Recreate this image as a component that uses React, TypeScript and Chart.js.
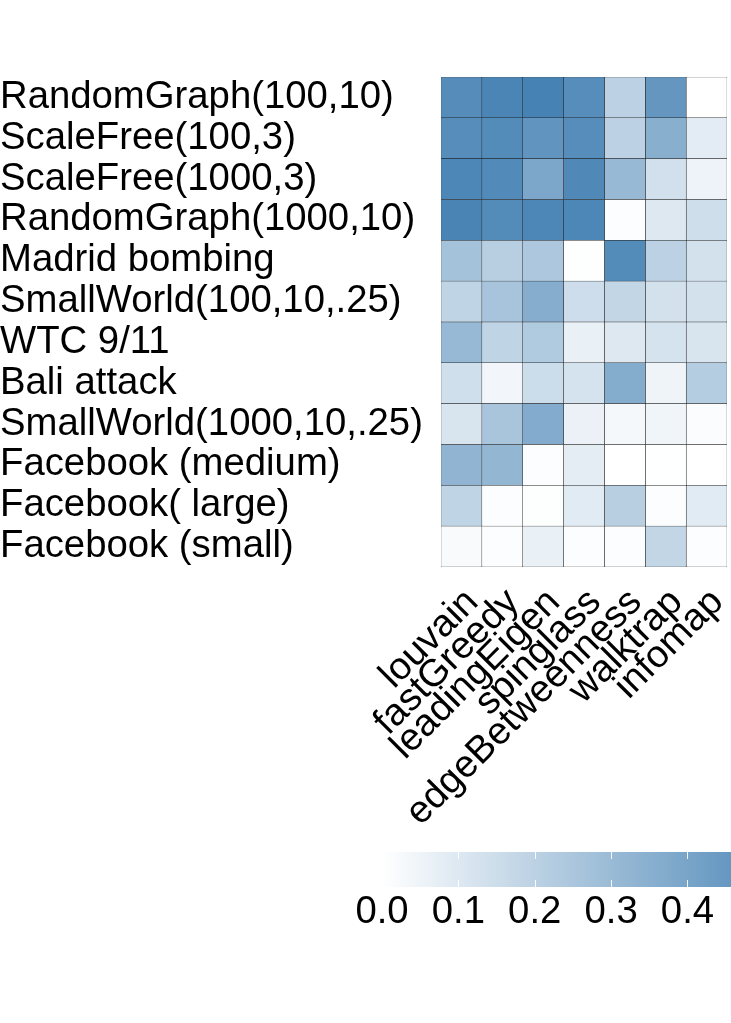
import React, { useEffect, useRef } from "react";
import { Chart, registerables } from "chart.js";
Chart.register(...registerables);

const rowLabels = [
  "RandomGraph(100,10)",
  "ScaleFree(100,3)",
  "ScaleFree(1000,3)",
  "RandomGraph(1000,10)",
  "Madrid bombing",
  "SmallWorld(100,10,.25)",
  "WTC 9/11",
  "Bali attack",
  "SmallWorld(1000,10,.25)",
  "Facebook (medium)",
  "Facebook( large)",
  "Facebook (small)",
];
const colLabels = ["louvain", "fastGreedy", "leadingEigen", "spinglass", "edgeBetweenness", "walktrap", "infomap"];

// values per method (column), listed in row order (top to bottom)
const louvain = [0.505, 0.5, 0.53, 0.54, 0.27, 0.19, 0.31, 0.14, 0.115, 0.33, 0.19, 0.02];
const fastGreedy = [0.535, 0.51, 0.515, 0.51, 0.21, 0.26, 0.19, 0.04, 0.255, 0.32, 0.01, 0.01];
const leadingEigen = [0.55, 0.47, 0.39, 0.53, 0.245, 0.36, 0.235, 0.155, 0.37, 0.01, 0.005, 0.065];
const spinglass = [0.5, 0.5, 0.52, 0.53, 0.005, 0.15, 0.065, 0.125, 0.06, 0.08, 0.09, 0.01];
const edgeBetweenness = [0.2, 0.2, 0.31, 0.01, 0.51, 0.18, 0.1, 0.365, 0.03, 0, 0.21, 0.01];
const walktrap = [0.46, 0.35, 0.137, 0.1, 0.2, 0.13, 0.125, 0.05, 0.045, 0.002, 0.01, 0.18];
const infomap = [0, 0.083, 0.054, 0.145, 0.13, 0.13, 0.115, 0.22, 0.015, 0, 0.09, 0.01];
const columns = [louvain, fastGreedy, leadingEigen, spinglass, edgeBetweenness, walktrap, infomap];

const cellSpan = rowLabels.map(() => 1);
const legendTicks = [0, 0.1, 0.2, 0.3, 0.4];
const legendMax = 0.457;
const colorMax = 0.55;

const LOW = [255, 255, 255];
const HIGH = [70, 130, 180];
function fillColor(v: number) {
  const t = Math.max(0, Math.min(1, v / colorMax));
  const c = LOW.map((l, i) => Math.round(l + (HIGH[i] - l) * t));
  return `rgb(${c[0]},${c[1]},${c[2]})`;
}

const FONT = "'Liberation Sans', Arial, Helvetica, sans-serif";
const FSIZE = 38.3;

export default function App() {
  const mainRef = useRef<HTMLCanvasElement>(null);
  const legRef = useRef<HTMLCanvasElement>(null);

  useEffect(() => {
    const main = new Chart(mainRef.current!, {
      type: "bar",
      data: {
        labels: rowLabels,
        datasets: columns.map((vals, j) => ({
          label: colLabels[j],
          data: cellSpan,
          backgroundColor: vals.map(fillColor),
          borderColor: "#1a1a1a",
          borderWidth: 0.5,
          borderSkipped: false,
          barPercentage: 1,
          categoryPercentage: 1,
        })),
      },
      options: {
        indexAxis: "y",
        responsive: false,
        animation: false,
        layout: { padding: { top: 77, right: 4, left: 0, bottom: 0 } },
        plugins: { legend: { display: false }, tooltip: { enabled: false } },
        scales: {
          x: {
            type: "linear",
            stacked: true,
            min: 0,
            max: colLabels.length,
            grid: { display: false, drawTicks: false },
            border: { display: false },
            afterBuildTicks: (s: any) => {
              s.ticks = colLabels.map((_, i) => ({ value: i + 0.5 }));
            },
            afterFit: (s: any) => {
              s.height = 273;
              s.paddingLeft = 0;
              s.paddingRight = 0;
            },
            ticks: {
              autoSkip: false,
              minRotation: 45,
              maxRotation: 45,
              labelOffset: 11,
              padding: 13,
              color: "#000",
              font: { size: FSIZE, family: FONT },
              callback: (_v: any, i: number) => colLabels[i],
            },
          },
          y: {
            stacked: true,
            grid: { display: false, drawTicks: false },
            border: { display: false },
            afterFit: (s: any) => {
              s.width = 441;
              s.paddingTop = 0;
              s.paddingBottom = 0;
            },
            ticks: {
              autoSkip: false,
              crossAlign: "far",
              padding: 0,
              color: "#000",
              font: { size: FSIZE, family: FONT },
            },
          },
        },
      },
    } as any);

    const tickMarks = {
      id: "tickMarks",
      afterDatasetsDraw(chart: any) {
        const xs = chart.scales.x;
        const { top, bottom } = chart.chartArea;
        const h = (bottom - top) / 5;
        const ctx = chart.ctx;
        ctx.save();
        ctx.strokeStyle = "rgba(255,255,255,0.9)";
        ctx.lineWidth = 1;
        legendTicks.forEach((v) => {
          if (v <= 0) return;
          const x = Math.round(xs.getPixelForValue(v)) + 0.5;
          ctx.beginPath();
          ctx.moveTo(x, top);
          ctx.lineTo(x, top + h);
          ctx.moveTo(x, bottom - h);
          ctx.lineTo(x, bottom);
          ctx.stroke();
        });
        ctx.restore();
      },
    };

    const legend = new Chart(legRef.current!, {
      type: "bar",
      data: {
        labels: ["value"],
        datasets: [
          {
            data: [legendMax],
            backgroundColor: (c: any) => {
              const chart = c.chart;
              const xs = chart.scales?.x;
              if (!chart.chartArea || !xs) return fillColor(legendMax / 2);
              const x0 = xs.getPixelForValue(0);
              const x1 = xs.getPixelForValue(legendMax);
              const g = chart.ctx.createLinearGradient(x0, 0, x1, 0);
              for (let k = 0; k <= 10; k++) g.addColorStop(k / 10, fillColor((legendMax * k) / 10));
              return g;
            },
            borderWidth: 0,
            barPercentage: 1,
            categoryPercentage: 1,
          },
        ],
      },
      options: {
        indexAxis: "y",
        responsive: false,
        animation: false,
        layout: { padding: { top: 12, left: 382, right: 0, bottom: 23 } },
        plugins: { legend: { display: false }, tooltip: { enabled: false } },
        scales: {
          x: {
            type: "linear",
            min: 0,
            max: legendMax,
            grid: { display: false, drawTicks: false },
            border: { display: false },
            afterBuildTicks: (s: any) => {
              s.ticks = legendTicks.map((v) => ({ value: v }));
            },
            afterFit: (s: any) => {
              s.height = 50;
              s.paddingLeft = 0;
              s.paddingRight = 0;
            },
            ticks: {
              padding: 2,
              color: "#000",
              font: { size: FSIZE, family: FONT },
              callback: (v: any) => Number(v).toFixed(1),
            },
          },
          y: { display: false },
        },
      },
      plugins: [tickMarks],
    } as any);

    return () => {
      main.destroy();
      legend.destroy();
    };
  }, []);

  return (
    <div style={{ position: "absolute", left: 0, top: 0, width: 731, height: 1023, background: "#fff" }}>
      <canvas ref={mainRef} width={731} height={840} style={{ position: "absolute", left: 0, top: 0 }} />
      <canvas ref={legRef} width={731} height={120} style={{ position: "absolute", left: 0, top: 840 }} />
    </div>
  );
}
